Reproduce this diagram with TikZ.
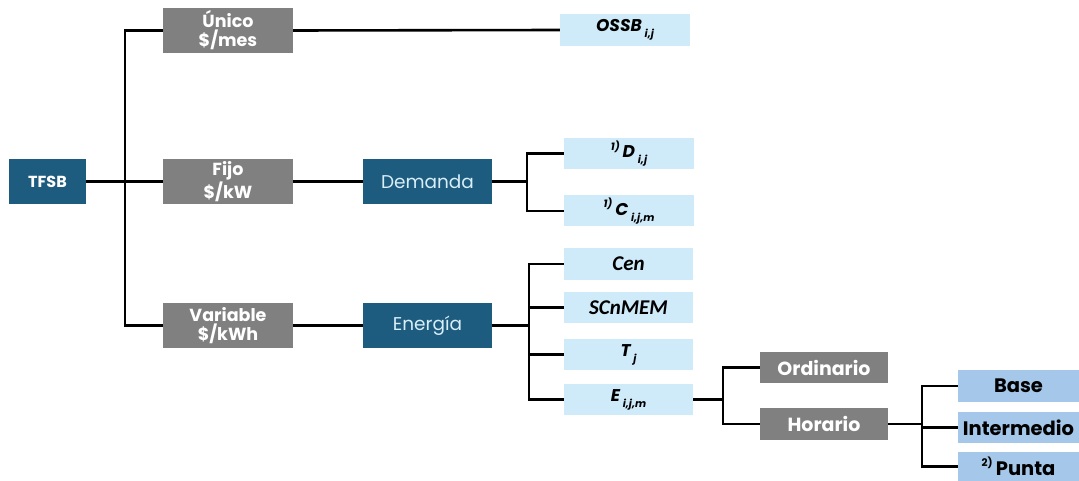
\documentclass[tikz,border=0pt]{standalone}
\usepackage{fontspec}
\setmainfont{Poppins}
\newfontfamily\carl{Carlito}
\definecolor{teal}{HTML}{1D5C7F}
\definecolor{grayb}{HTML}{808080}
\definecolor{lblue}{HTML}{CFEAF9}
\definecolor{mblue}{HTML}{A5C8EA}
\definecolor{ltext}{HTML}{D8EEF8}
\newcommand\lsub[1]{\,\raisebox{-0.35em}{\fontsize{10.5}{10.5}\selectfont\itshape #1}}
\newcommand\lsup[1]{\raisebox{0.45em}{\fontsize{10.5}{10.5}\selectfont #1}\,}
\begin{document}
\begin{tikzpicture}[x=1pt,y=-1pt,
  base/.style={inner sep=0pt, align=center},
  graybox/.style={base, fill=grayb, text=white, font=\fontsize{17.5}{19}\selectfont\bfseries, minimum width=130, minimum height=45},
  tealbox/.style={base, fill=teal, text=ltext, font=\fontsize{18.5}{20}\selectfont, minimum width=129, minimum height=45},
  lbbox/.style={base, fill=lblue, text=black, font=\fontsize{17}{19}\selectfont\bfseries\itshape, minimum width=130, minimum height=31},
  gsmall/.style={base, fill=grayb, text=white, font=\fontsize{19}{21}\selectfont\bfseries, minimum width=128, minimum height=31},
  mbbox/.style={base, fill=mblue, text=black, font=\fontsize{19.5}{21}\selectfont\bfseries, minimum width=121, minimum height=31},
  conn/.style={line width=2.6pt, black}]
\fill[white] (0,0) rectangle (1079,481);
\useasboundingbox (0,0) rectangle (1079,481);

\node[base, fill=teal, text=white, font=\fontsize{16}{18}\selectfont\bfseries, minimum width=77, minimum height=45] (tfsb) at (47.5,181.5) {TFSB};
\node[graybox] (unico) at (228,30.5) {Único\\\$/mes};
\node[graybox] (fijo) at (228,181.5) {Fijo\\\$/kW};
\node[graybox] (var) at (228,325.5) {Variable\\\$/kWh};
\node[lbbox, minimum height=32] (ossb) at (625,30) {OSSB\lsub{i,j}};
\node[tealbox] (dem) at (427.5,181.5) {Demanda};
\node[tealbox] (ene) at (427.5,325.5) {Energía};
\node[lbbox] (d) at (629,153.5) {\lsup{1)}D\lsub{i,j}};
\node[lbbox] (c) at (629,211) {\lsup{1)}C\lsub{i,j,m}};
\node[lbbox, minimum width=129, minimum height=32, font=\fontsize{21}{23}\selectfont\carl\bfseries\itshape] (cen) at (628.5,264) {Cen};
\node[lbbox, minimum width=129, font=\fontsize{21}{23}\selectfont\carl\bfseries\itshape] (scn) at (628.5,307.5) {SCnMEM};
\node[lbbox, minimum width=129] (t) at (628.5,354.5) {T\lsub{j}};
\node[lbbox, minimum width=129] (e) at (628.5,399.5) {E\lsub{i,j,m}};
\node[gsmall] (ord) at (824,367.5) {Ordinario};
\node[gsmall, minimum height=32] (hor) at (824,424) {Horario};
\node[mbbox, minimum height=32] (bas) at (1018.5,386) {Base};
\node[mbbox] (int) at (1018.5,427.5) {Intermedio};
\node[mbbox, minimum height=29] (pun) at (1018.5,466.5) {\lsup{\upshape 2)}Punta};

\coordinate (b0) at (125,0);
\coordinate (b1) at (527,0);
\coordinate (b2) at (529,0);
\coordinate (b3) at (723,0);
\coordinate (b4) at (922,0);

\draw[conn] (tfsb.east) -- (fijo.west);
\draw[conn] (unico.west) -- (unico.west -| b0) -- (var.west -| b0) -- (var.west);
\draw[conn] (unico.east) -- (ossb.west);
\draw[conn] (fijo.east) -- (dem.west);
\draw[conn] (var.east) -- (ene.west);
\draw[conn] (dem.east) -- (dem.east -| b1);
\draw[conn] (d.west) -- (d.west -| b1) -- (c.west -| b1) -- (c.west);
\draw[conn] (ene.east) -- (ene.east -| b2);
\draw[conn] (cen.west) -- (cen.west -| b2) -- (e.west -| b2) -- (e.west);
\draw[conn] (scn.west) -- (scn.west -| b2);
\draw[conn] (t.west) -- (t.west -| b2);
\draw[conn] (e.east) -- (e.east -| b3);
\draw[conn] (ord.west) -- (ord.west -| b3) -- (hor.west -| b3) -- (hor.west);
\draw[conn] (hor.east) -- (hor.east -| b4);
\draw[conn] (bas.west) -- (bas.west -| b4) -- (pun.west -| b4) -- (pun.west);
\draw[conn] (int.west) -- (int.west -| b4);
\end{tikzpicture}
\end{document}
